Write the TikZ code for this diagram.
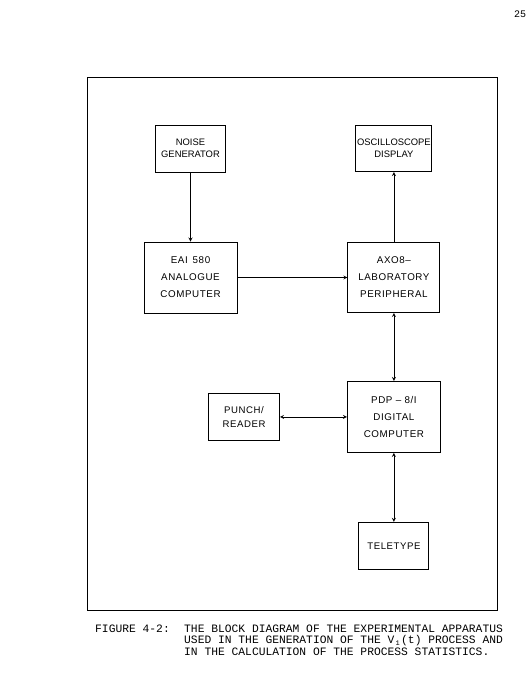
\documentclass[tikz,border=0pt]{standalone}
\usepackage{fontspec}
\setsansfont{Liberation Sans}
\setmonofont{Liberation Mono}
\newfontfamily\spacedsans[LetterSpace=6]{Liberation Sans}
\usetikzlibrary{positioning}

\begin{document}
\begin{tikzpicture}[
            x=1pt, y=-1pt,
            node distance=69pt,
            block/.style={draw, line width=0.9pt, align=center, inner sep=0pt},
            small/.style={block, font=\sffamily\fontsize{9.4}{12}\selectfont, minimum width=70pt, minimum height=47pt},
            large/.style={block, font=\spacedsans\fontsize{9.8}{17}\selectfont, minimum width=93pt, minimum height=71pt},
            link/.style={->, line width=0.8pt, >=stealth},
            both/.style={<->, line width=0.8pt, >=stealth},
            caption/.style={font=\ttfamily\fontsize{11.3}{11.6}\selectfont, align=left, anchor=base west, inner sep=0pt}
        ]
            \useasboundingbox (0,0) rectangle (530,695);

            % page number and frame
            \node[font=\ttfamily\fontsize{10}{10}\selectfont, anchor=base west, inner sep=0pt] (page) at (514,18) {25};
            \draw[line width=1pt] (87,78) rectangle (497,610);

            % the blocks
            \node[large] (eai) at (190.5,277.5) {EAI\enspace 580\\ANALOGUE\\COMPUTER};
            \node[small] (noise) [above=of eai] {NOISE\\GENERATOR};
            \node[large, minimum width=92pt, minimum height=70pt] (axo) [right=110pt of eai] {AXO8–\\LABORATORY\\PERIPHERAL};
            \node[small, minimum width=76pt, minimum height=46pt] (scope) [above=70pt of axo] {OSCILLOSCOPE\\DISPLAY};
            \node[large] (pdp) [below=68pt of axo] {PDP – 8/I\\DIGITAL\\COMPUTER};
            \node[small, font=\spacedsans\fontsize{9.6}{14}\selectfont, minimum width=71pt] (punch) [left=67pt of pdp] {PUNCH/\\READER};
            \node[small, font=\spacedsans\fontsize{9.6}{12}\selectfont] (tty) [below=of pdp] {TELETYPE};

            % connections
            \draw[link] (noise) -- (eai);
            \draw[link] (eai) -- (axo);
            \draw[link] (axo) -- (scope);
            \draw[both] (axo) -- (pdp);
            \draw[both] (pdp) -- (punch);
            \draw[both] (pdp) -- (tty);

            % caption
            \node[caption] (fig) at (95,632) {FIGURE 4-2:};
            \node[caption] (captext) at (184,655.2) {THE BLOCK DIAGRAM OF THE EXPERIMENTAL APPARATUS\\USED IN THE GENERATION OF THE V\makebox[0.6em]{\raisebox{-1.5pt}{\fontsize{7}{7}\selectfont 1}}(t) PROCESS AND\\IN THE CALCULATION OF THE PROCESS STATISTICS.};
          \end{tikzpicture}
\end{document}
